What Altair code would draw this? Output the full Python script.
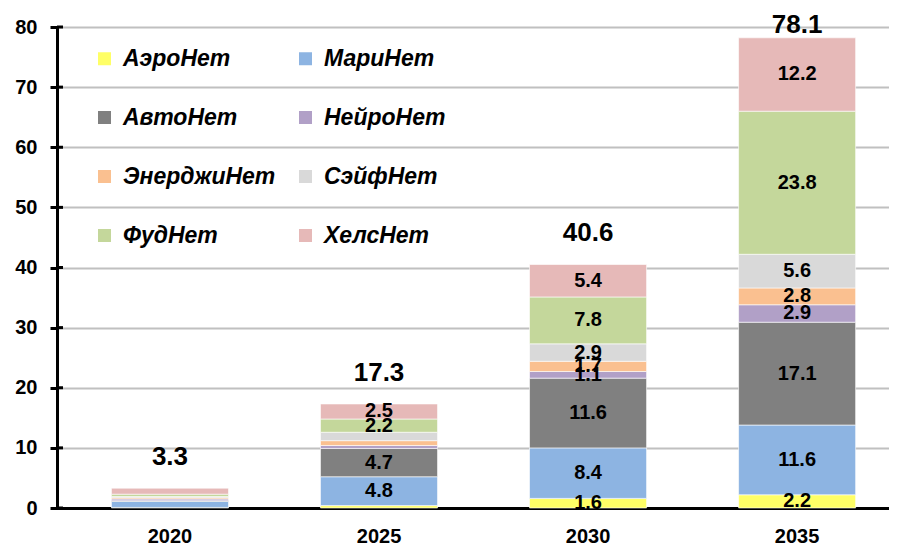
import altair as alt
import pandas as pd

FONT = "Liberation Sans, Arial, sans-serif"

years = ["2020", "2025", "2030", "2035"]
series = ["АэроНет", "МариНет", "АвтоНет", "НейроНет",
          "ЭнерджиНет", "СэйфНет", "ФудНет", "ХелсНет"]
colors = ["#FFFF66", "#8DB4E2", "#808080", "#B1A0C7",
          "#FAC090", "#D9D9D9", "#C4D79B", "#E6B9B8"]

v2020 = [0.1, 1.0, 0.1, 0.3, 0.2, 0.2, 0.4, 1.0]
v2025 = [0.4, 4.8, 4.7, 0.5, 0.8, 1.4, 2.2, 2.5]
v2030 = [1.6, 8.4, 11.6, 1.1, 1.7, 2.9, 7.8, 5.4]
v2035 = [2.2, 11.6, 17.1, 2.9, 2.8, 5.6, 23.8, 12.2]

show2020 = [False] * 8
show2025 = [False, True, True, False, False, False, True, True]
show2030 = [True] * 8
show2035 = [True] * 8

totals = [3.3, 17.3, 40.6, 78.1]
y_ticks = [0, 10, 20, 30, 40, 50, 60, 70, 80]

rows = []
for yr, vals, shows in zip(years, [v2020, v2025, v2030, v2035],
                           [show2020, show2025, show2030, show2035]):
    for i, (s, v, sh) in enumerate(zip(series, vals, shows)):
        rows.append({"year": yr, "series": s, "idx": i, "value": v,
                     "show": sh})
df = pd.DataFrame(rows)
tot_df = pd.DataFrame({"year": years, "total": totals})
tick_df = pd.DataFrame({"t": y_ticks})

xscale = alt.Scale(domain=years, paddingInner=0.44, paddingOuter=0.21,
                   align=0.62)
yscale = alt.Scale(domain=[0, 80], nice=False)

x_enc = alt.X("year:N", scale=xscale, sort=years, title=None,
              axis=alt.Axis(labelAngle=0, ticks=False, domainColor="black",
                            domainWidth=3, labelFont=FONT, labelFontSize=20,
                            labelFontWeight="bold", labelColor="black",
                            labelPadding=18, grid=False))

bars = alt.Chart(df).mark_bar(stroke="white", strokeWidth=0.6).encode(
    x=x_enc,
    y=alt.Y("value:Q", stack="zero", scale=yscale, title=None,
            axis=alt.Axis(values=y_ticks, domainColor="black", domainWidth=3,
                          tickColor="black", tickWidth=3, tickSize=7,
                          labelFont=FONT, labelFontSize=20,
                          labelFontWeight="bold", labelColor="black",
                          labelPadding=13, gridColor="#C0C0C0",
                          gridWidth=2)),
    color=alt.Color("series:N", sort=series,
                    scale=alt.Scale(domain=series, range=colors),
                    legend=alt.Legend(title=None, orient="none", legendX=36,
                                      legendY=20, columns=2, direction="horizontal",
                                      symbolType="square", symbolSize=169,
                                      symbolStrokeWidth=0, labelFont=FONT,
                                      labelFontSize=23, labelFontWeight="bold",
                                      labelFontStyle="italic",
                                      labelColor="black", labelOffset=7,
                                      rowPadding=35, columnPadding=18,
                                      padding=0, labelLimit=300)),
    order=alt.Order("idx:Q", sort="ascending"),
)

labels = alt.Chart(df).transform_stack(
    stack="value", groupby=["year"], sort=[alt.SortField("idx")],
    as_=["y0", "y1"]
).transform_filter("datum.show").transform_calculate(
    mid="(datum.y0 + datum.y1) / 2",
    lab="format(datum.value, '.1f')"
).mark_text(font=FONT, fontSize=20, fontWeight="bold", color="black",
            baseline="middle").encode(
    x=alt.X("year:N", scale=xscale, sort=years),
    y=alt.Y("mid:Q", scale=yscale),
    text="lab:N",
)

tot = alt.Chart(tot_df).transform_calculate(
    ly="min(datum.total + 5.2, 80.4)",
    lab="format(datum.total, '.1f')"
).mark_text(font=FONT, fontSize=26, fontWeight="bold", color="black",
            baseline="middle").encode(
    x=alt.X("year:N", scale=xscale, sort=years),
    y=alt.Y("ly:Q", scale=yscale),
    text="lab:N",
)

inner_ticks = alt.Chart(tick_df).mark_rule(color="black", strokeWidth=3).encode(
    x=alt.value(0), x2=alt.value(6),
    y=alt.Y("t:Q", scale=yscale),
)

chart = alt.layer(bars, labels, tot, inner_ticks).properties(
    width=832, height=481,
    autosize=alt.AutoSizeParams(type="none"),
    padding={"left": 49, "top": 19, "right": 0, "bottom": 38},
).configure_view(stroke=None).configure_axis(domainCap="square")

chart.save("out.html", embed_options={"renderer": "svg", "actions": False})
